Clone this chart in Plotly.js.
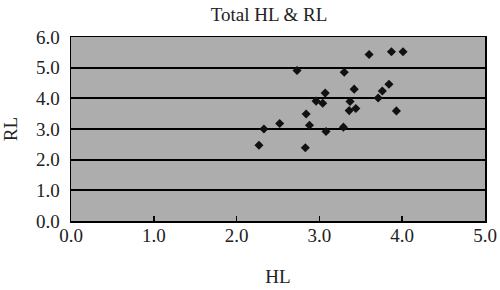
<!DOCTYPE html>
<html>
<head>
<meta charset="utf-8">
<script src="https://cdn.plot.ly/plotly-3.0.1.min.js"></script>
<style>html,body{margin:0;padding:0;background:#fff;}#chart{width:500px;height:290px;}</style>
</head>
<body>
<div id="chart"></div>
<script>
const hl = [3.60, 3.87, 4.01, 2.73, 3.30, 3.07, 3.42, 3.84, 3.76, 3.71, 2.96, 3.04, 3.37, 3.36, 3.44, 3.93, 2.84, 2.52, 2.33, 2.88, 3.08, 3.29, 2.27, 2.83];
const rl = [5.43, 5.52, 5.52, 4.91, 4.85, 4.17, 4.30, 4.46, 4.24, 4.01, 3.91, 3.84, 3.90, 3.60, 3.67, 3.59, 3.49, 3.18, 3.00, 3.12, 2.92, 3.06, 2.47, 2.39];
const xTicks = [0, 1, 2, 3, 4, 5];
const yTicks = [0, 1, 2, 3, 4, 5, 6];
const fmt = v => v.toFixed(1);

const fam = '"Liberation Serif", "DejaVu Serif", serif';
const tf = {family: fam, color: '#222', size: 19};

Plotly.newPlot('chart', [{
  x: hl, y: rl, type: 'scatter', mode: 'markers',
  marker: {symbol: 'diamond', size: 7, color: '#111'}
}], {
  width: 500, height: 290,
  margin: {l: 71, r: 15, t: 37, b: 69},
  paper_bgcolor: '#fff', plot_bgcolor: '#adadad',
  font: tf,
  showlegend: false,
  title: {text: 'Total HL &amp; RL', font: {family: fam, size: 19, color: '#222'}, x: 0.538, xanchor: 'center', y: 0.952, yanchor: 'middle'},
  xaxis: {
    range: [0, 5], tickvals: xTicks, ticktext: xTicks.map(fmt), tickfont: tf,
    showgrid: false, zeroline: false, showline: true, linecolor: '#000', linewidth: 1.5, mirror: true,
    ticks: 'inside', ticklen: 5, tickcolor: '#000', tickwidth: 1.5, ticklabelstandoff: -3,
    title: {text: 'HL', font: {family: fam, size: 19, color: '#222'}, standoff: 24},
    fixedrange: true
  },
  yaxis: {
    range: [0, 6], tickvals: yTicks, ticktext: yTicks.map(fmt), tickfont: tf,
    showgrid: true, gridcolor: '#000', gridwidth: 2, zeroline: false,
    showline: true, linecolor: '#000', linewidth: 1.5, mirror: true,
    ticks: '', ticklabelstandoff: 6,
    title: {text: 'RL', font: {family: fam, size: 19, color: '#222'}, standoff: 14},
    fixedrange: true
  }
}, {displayModeBar: false, staticPlot: true});
</script>
</body>
</html>
